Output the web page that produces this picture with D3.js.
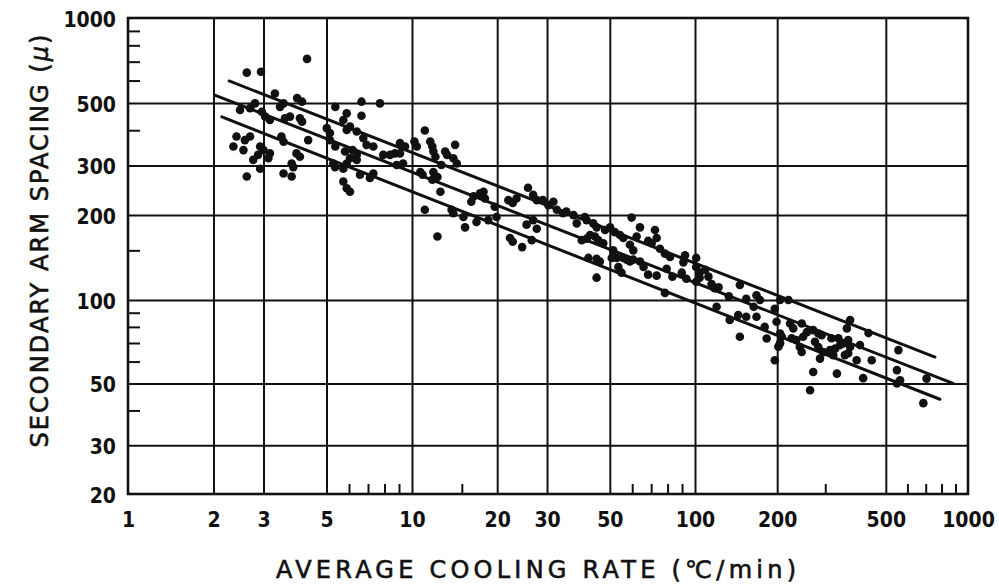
<!DOCTYPE html>
<html><head><meta charset="utf-8">
<script src="https://cdn.jsdelivr.net/npm/d3@7/dist/d3.min.js"></script>
<style>body{margin:0;background:#fff}svg{display:block}</style>
</head><body>
<svg id="c" width="999" height="585"></svg>
<script>
// Observations: average cooling rate (°C/min) vs secondary arm spacing (µ)
const rates = [4.27,2.62,2.94,3.29,3.94,4.10,3.53,3.43,2.80,2.69,2.48,2.96,3.04,3.16,3.72,3.57,4.03,4.10,5.37,6.64,7.71,5.89,5.73,6.64,6.05,5.89,5.01,5.14,6.39,6.74,2.41,2.35,2.58,2.55,2.69,2.92,3.00,2.87,2.76,3.16,3.12,3.47,3.53,4.31,3.92,4.03,3.77,3.82,2.92,2.62,3.53,3.77,5.14,5.37,5.81,6.18,6.39,6.05,6.92,7.31,5.28,5.36,5.89,5.73,6.39,6.56,7.31,7.11,5.73,5.89,6.05,7.92,8.37,8.71,8.83,9.45,9.07,
11.1,10.2,10.4,11.6,11.8,11.9,12.1,13.1,13.3,14.2,14.0,14.4,12.7,9.07,9.3,10.7,10.9,11.9,12.3,11.8,12.6,11.1,13.8,14.0,15.2,15.4,16.9,12.3,16.2,16.5,17.4,18.1,17.9,18.6,19.9,19.6,21.9,22.7,23.4,25.7,26.8,27.6,22.2,22.7,24.5,25.4,26.8,27.6,26.5,29.0,30.3,31.6,32.5,34.2,35.1,37.2,38.2,40.8,41.4,43.7,39.8,41.4,42.6,42.0,44.9,
59.7,44.9,48.1,50.1,52.1,54.3,55.8,63.9,62.2,72.2,73.2,68.3,70.3,44.3,45.5,47.4,58.9,60.5,75.2,78.3,81.6,51.4,52.9,50.8,55.8,57.4,58.9,60.5,63.9,65.8,44.9,46.1,53.6,55.0,68.3,73.2,79.4,83.2,92.2,91.0,89.8,93.2,101,101,104,78.3,109,112,115,118,122,104,101,120,133,134,146,154,164,168,173,144,154,168,146,180,183,196,199,208,205,220,
205,370,360,432,556,205,202,223,229,226,235,246,257,249,242,246,271,283,291,275,283,287,295,316,335,340,312,326,321,349,364,370,364,354,402,391,444,413,271,331,196,264,549,705,564,549,686];
const spacings = [716,640,645,540,520,505,498,484,498,479,472,465,447,435,447,441,441,429,484,505,498,459,435,450,412,401,407,391,396,375,380,350,369,340,380,350,340,327,314,331,318,380,364,369,331,322,305,296,292,274,281,274,369,350,336,340,327,318,355,350,305,296,305,292,314,278,281,271,263,249,242,327,327,331,301,350,360,
399,365,350,365,350,336,322,336,327,355,318,305,301,331,305,284,278,284,273,267,242,209,209,203,197,181,189,168,223,233,239,229,242,192,197,214,226,221,229,250,236,226,166,161,154,185,192,179,163,226,217,223,209,203,206,200,187,197,192,187,163,165,170,141,120,
196,181,177,181,174,170,166,181,168,177,166,162,159,168,163,159,157,150,152,146,142,150,141,141,141,139,137,139,137,131,140,137,131,125,123,122,129,121,144,136,125,119,141,131,125,106,128,121,114,110,111,120,116,94.5,103,84.7,113,101,94.5,104,100,88.3,87,87,73.7,80,72.7,93,83.5,73.7,69.8,100,
100,84.7,79,76,66,75.7,67.9,82.3,79,72.8,71.7,82.3,76.6,73.7,67.7,65,77.9,75.7,74.7,70.7,67.7,61.5,64.9,72.8,72.8,68.8,66,66.8,63.3,69.7,71.7,67.7,64.3,63.3,68.8,60.7,60.7,52.3,55,54.3,60.7,47.3,55.9,52.1,51.4,50,42.5];

// Three parallel band lines (start / end points)
const bandStartRate = [2.27, 2.02, 2.14];
const bandStartSpacing = [598, 533, 446];
const bandEndRate = [757, 881, 789];
const bandEndSpacing = [62.3, 50.1, 43.9];

// Axes
const xTickLabels = [1,2,3,5,10,20,30,50,100,200,500,1000];
const xGridValues = [2,3,5,10,20,30,50,100,200,500];
const xMinorTicks = [6,7,8,9,15,60,70,80,90,300,600,700,800,900];
const yTickLabels = [20,30,50,100,200,300,500,1000];
const yGridValues = [30,50,100,200,300,500];
const yMinorTicks = [40,60,70,80,90,150,400,600,700,800,900];
const xTitle = "AVERAGE COOLING RATE (\u2103/min)";
const yTitle = "SECONDARY ARM SPACING (";

const svg = d3.select("#c");
svg.append("rect").attr("width",999).attr("height",585).attr("fill","#fff");

// hand-drawn graph paper: piecewise log scales
const x = d3.scaleLog().domain([1,10,100,1000]).range([128,412,695,968]);
const y = d3.scaleLog().domain([20,100,1000]).range([494,300,18]);
const L = x(1), R = x(1000), T = y(1000), B = y(20);
const ink = "#111";

function styleAxis(g, w){
  g.select(".domain").remove();
  g.selectAll(".tick line").attr("stroke",ink).attr("stroke-width",w);
}

// grid lines
svg.append("g").attr("transform",`translate(0,${B})`)
  .call(d3.axisBottom(x).tickValues(xGridValues).tickSize(-(B-T)).tickFormat(""))
  .call(g=>styleAxis(g,2));
svg.append("g").attr("transform",`translate(${L},0)`)
  .call(d3.axisLeft(y).tickValues(yGridValues).tickSize(-(R-L)).tickFormat(""))
  .call(g=>styleAxis(g,2));
// minor ticks
svg.append("g").attr("transform",`translate(0,${B})`)
  .call(d3.axisBottom(x).tickValues(xMinorTicks).tickSize(-10).tickFormat(""))
  .call(g=>styleAxis(g,2));
svg.append("g").attr("transform",`translate(${L},0)`)
  .call(d3.axisLeft(y).tickValues(yMinorTicks).tickSize(-12).tickFormat(""))
  .call(g=>styleAxis(g,2));

// frame
svg.append("rect").attr("x",L).attr("y",T).attr("width",R-L).attr("height",B-T)
  .attr("fill","none").attr("stroke",ink).attr("stroke-width",2.6);

// tick labels
const tickFont = '"DejaVu Sans Condensed","DejaVu Sans",sans-serif';
svg.append("g").attr("transform",`translate(0,${B})`)
  .call(d3.axisBottom(x).tickValues(xTickLabels).tickSize(0).tickPadding(18).tickFormat(d=>String(d)))
  .call(g=>{g.select(".domain").remove();
    g.selectAll("text").attr("font-family",tickFont).attr("font-weight","bold").attr("font-size",21).attr("fill",ink);});
svg.append("g").attr("transform",`translate(${L},0)`)
  .call(d3.axisLeft(y).tickValues(yTickLabels).tickSize(0).tickPadding(12).tickFormat(d=>String(d)))
  .call(g=>{g.select(".domain").remove();
    g.selectAll("text").attr("font-family",tickFont).attr("font-weight","bold").attr("font-size",21).attr("fill",ink).attr("dy","0.4em");});

// band lines
svg.append("g").selectAll("line").data(bandStartRate).join("line")
  .attr("x1",(d,i)=>x(bandStartRate[i])).attr("y1",(d,i)=>y(bandStartSpacing[i]))
  .attr("x2",(d,i)=>x(bandEndRate[i])).attr("y2",(d,i)=>y(bandEndSpacing[i]))
  .attr("stroke",ink).attr("stroke-width",3).attr("stroke-linecap","round");

// points
svg.append("g").selectAll("circle").data(rates).join("circle")
  .attr("cx",(d)=>x(d)).attr("cy",(d,i)=>y(spacings[i])).attr("r",4.3).attr("fill",ink);

// axis titles
const titleFont = '"DejaVu Sans",sans-serif';
svg.append("text").attr("x",536).attr("y",578).attr("text-anchor","middle")
  .attr("font-family",titleFont).attr("font-size",24).attr("fill",ink)
  .attr("stroke",ink).attr("stroke-width",0.6)
  .attr("textLength",520).attr("lengthAdjust","spacing").text(xTitle);
const yt = svg.append("text").attr("transform","translate(48,241) rotate(-90)").attr("text-anchor","middle")
  .attr("font-family",titleFont).attr("font-size",24).attr("fill",ink)
  .attr("stroke",ink).attr("stroke-width",0.6)
  .attr("textLength",413).attr("lengthAdjust","spacing");
yt.append("tspan").text(yTitle);
yt.append("tspan").attr("font-style","italic").text("\u03bc");
yt.append("tspan").text(")");
</script>
</body></html>
